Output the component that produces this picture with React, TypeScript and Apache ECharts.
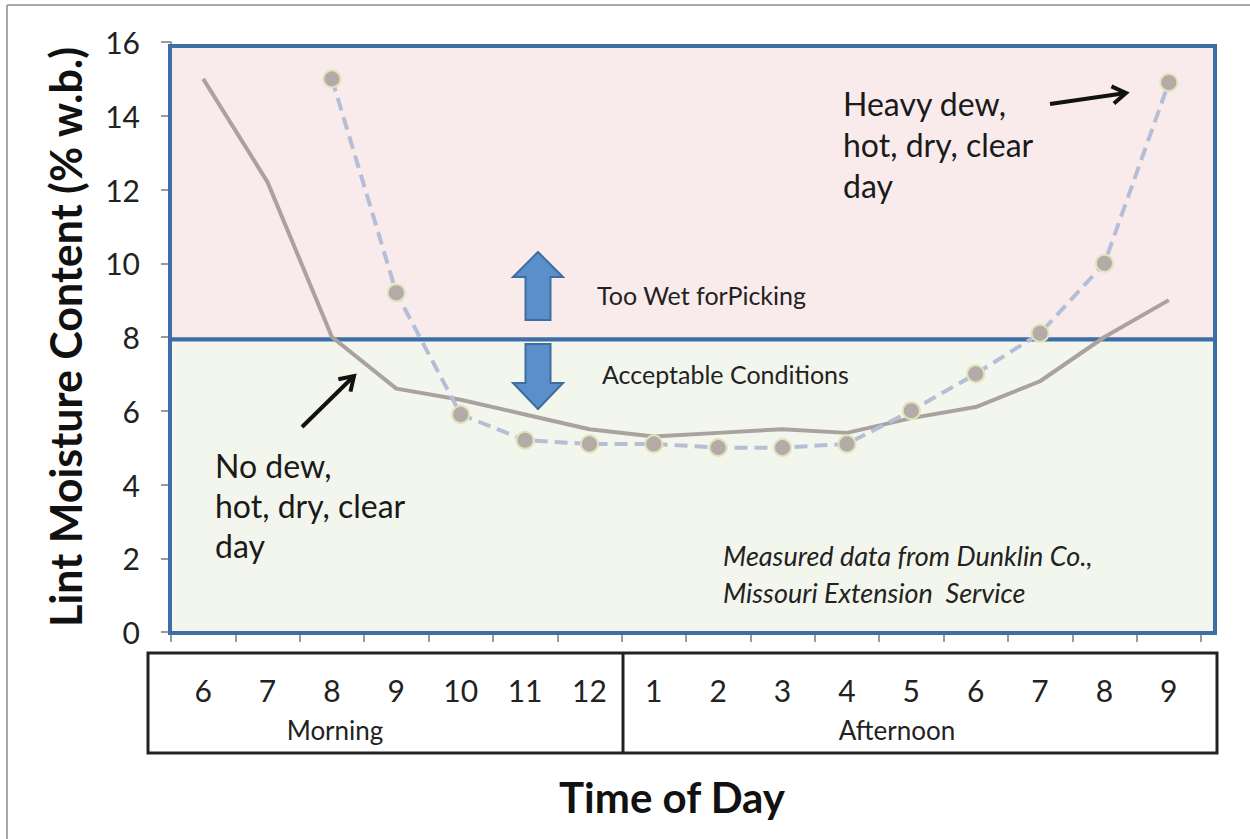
import React, { useEffect, useRef } from "react";
import * as echarts from "echarts";

const hours = ["6", "7", "8", "9", "10", "11", "12", "1", "2", "3", "4", "5", "6", "7", "8", "9"];
const noDew = [15.0, 12.2, 8.0, 6.6, 6.3, 5.9, 5.5, 5.3, 5.4, 5.5, 5.4, 5.8, 6.1, 6.8, 8.0, 9.0];
const heavyDew = [null, null, 15.0, 9.2, 5.9, 5.2, 5.1, 5.1, 5.0, 5.0, 5.1, 6.0, 7.0, 8.1, 10.0, 14.9];
const yTicks = { min: 0, max: 16, interval: 2 };
const threshold = 8;

const FONT = "Lato, 'Open Sans', sans-serif";

function arrowHead(x1: number, y1: number, x2: number, y2: number, len: number) {
  const a = Math.atan2(y2 - y1, x2 - x1);
  const s = Math.PI / 5.5;
  return [
    [x2 - len * Math.cos(a - s), y2 - len * Math.sin(a - s)],
    [x2, y2],
    [x2 - len * Math.cos(a + s), y2 - len * Math.sin(a + s)],
  ];
}

export default function App() {
  const ref = useRef<HTMLDivElement>(null);
  useEffect(() => {
    if (!ref.current) return;
    const chart = echarts.init(ref.current, undefined, { renderer: "svg" });
    const blackArrow = (x1: number, y1: number, x2: number, y2: number) => [
      { type: "line", shape: { x1, y1, x2, y2 }, style: { stroke: "#111", lineWidth: 4 }, z: 50 },
      {
        type: "polyline",
        shape: { points: arrowHead(x1, y1, x2, y2, 16) },
        style: { stroke: "#111", lineWidth: 4, fill: null },
        z: 50,
      },
    ];
    const bx = 538;
    const option: any = {
      animation: false,
      backgroundColor: "#ffffff",
      textStyle: { fontFamily: FONT },
      grid: [
        { left: 170, right: 35, top: 46, bottom: 206, show: false },
        { left: 171, right: 49, top: 42, bottom: 207, show: false },
      ],
      xAxis: [
        { gridIndex: 0, type: "value", min: 0, max: 1, show: false },
        {
          gridIndex: 1,
          type: "category",
          data: hours,
          boundaryGap: true,
          axisLine: { show: true, lineStyle: { color: "#9a9a9a", width: 2 } },
          axisTick: { show: true, length: 10, lineStyle: { color: "#9a9a9a", width: 2 } },
          axisLabel: { fontSize: 30, color: "#222", margin: 43, fontFamily: FONT },
        },
      ],
      yAxis: [
        { gridIndex: 0, type: "value", min: 0, max: 16, show: false },
        {
          gridIndex: 1,
          type: "value",
          min: yTicks.min,
          max: yTicks.max,
          interval: yTicks.interval,
          axisLine: { show: true, lineStyle: { color: "#9a9a9a", width: 2 } },
          axisTick: { show: true, length: 10, lineStyle: { color: "#9a9a9a", width: 2 } },
          axisLabel: { fontSize: 30, color: "#222", margin: 31, fontFamily: FONT },
          splitLine: { show: false },
          name: "Lint Moisture Content (% w.b.)",
          nameLocation: "middle",
          nameRotate: 90,
          nameGap: 84,
          nameTextStyle: { fontSize: 43, fontWeight: "bold", color: "#111", fontFamily: FONT },
        },
      ],
      series: [
        {
          type: "line",
          xAxisIndex: 0,
          yAxisIndex: 0,
          data: [],
          clip: false,
          silent: true,
          markArea: {
            silent: true,
            data: [
              [
                { yAxis: threshold, itemStyle: { color: "#f9ebeb", borderColor: "#3d6ea5", borderWidth: 4 } },
                { yAxis: 16 },
              ],
              [
                { yAxis: 0, itemStyle: { color: "#f3f6ec", borderColor: "#3d6ea5", borderWidth: 4 } },
                { yAxis: threshold },
              ],
            ],
          },
        },
        {
          name: "No dew",
          type: "line",
          xAxisIndex: 1,
          yAxisIndex: 1,
          data: noDew,
          showSymbol: false,
          symbol: "none",
          lineStyle: { color: "#aaa29f", width: 4 },
          z: 5,
        },
        {
          name: "Heavy dew",
          type: "line",
          xAxisIndex: 1,
          yAxisIndex: 1,
          data: heavyDew,
          symbol: "circle",
          symbolSize: 17,
          lineStyle: { color: "#b5bed7", width: 4, type: [13, 7] },
          itemStyle: { color: "#b4aaa8", borderColor: "#dfe4b9", borderWidth: 2 },
          z: 6,
        },
      ],
      graphic: [
        // outer frame
        { type: "line", shape: { x1: 7, y1: 5, x2: 1250, y2: 5 }, style: { stroke: "#a8a8a8", lineWidth: 2 } },
        { type: "line", shape: { x1: 7, y1: 5, x2: 7, y2: 839 }, style: { stroke: "#a8a8a8", lineWidth: 2 } },
        // category table
        {
          type: "rect",
          shape: { x: 148, y: 653, width: 1069, height: 100 },
          style: { fill: null, stroke: "#222", lineWidth: 3 },
          z: 40,
        },
        { type: "line", shape: { x1: 623, y1: 653, x2: 623, y2: 753 }, style: { stroke: "#222", lineWidth: 3 }, z: 40 },
        {
          type: "text",
          x: 335,
          y: 730,
          style: { text: "Morning", font: `26px ${FONT}`, fill: "#222", textAlign: "center", textVerticalAlign: "middle" },
          z: 40,
        },
        {
          type: "text",
          x: 897,
          y: 730,
          style: { text: "Afternoon", font: `26px ${FONT}`, fill: "#222", textAlign: "center", textVerticalAlign: "middle" },
          z: 40,
        },
        {
          type: "text",
          x: 672,
          y: 797,
          style: {
            text: "Time of Day",
            font: `bold 42px ${FONT}`,
            fill: "#111",
            textAlign: "center",
            textVerticalAlign: "middle",
          },
          z: 40,
        },
        // blue block arrows
        {
          type: "polygon",
          shape: {
            points: [
              [bx, 252], [bx + 25, 277], [bx + 12.5, 277], [bx + 12.5, 320],
              [bx - 12.5, 320], [bx - 12.5, 277], [bx - 25, 277],
            ],
          },
          style: { fill: "#5b8fca", stroke: "#3e6e9e", lineWidth: 2 },
          z: 45,
        },
        {
          type: "polygon",
          shape: {
            points: [
              [bx - 12.5, 344], [bx + 12.5, 344], [bx + 12.5, 383], [bx + 25, 383],
              [bx, 409], [bx - 25, 383], [bx - 12.5, 383],
            ],
          },
          style: { fill: "#5b8fca", stroke: "#3e6e9e", lineWidth: 2 },
          z: 45,
        },
        {
          type: "text",
          x: 597,
          y: 295,
          style: { text: "Too Wet forPicking", font: `25px ${FONT}`, fill: "#222", textVerticalAlign: "middle" },
          z: 45,
        },
        {
          type: "text",
          x: 602,
          y: 374,
          style: { text: "Acceptable Conditions", font: `25px ${FONT}`, fill: "#222", textVerticalAlign: "middle" },
          z: 45,
        },
        // annotations
        {
          type: "text",
          x: 843,
          y: 83,
          style: {
            text: "Heavy dew,\nhot, dry, clear\nday",
            font: `32px ${FONT}`,
            lineHeight: 41,
            fill: "#1a1a1a",
          },
          z: 45,
        },
        {
          type: "text",
          x: 215,
          y: 445,
          style: {
            text: "No dew,\nhot, dry, clear\nday",
            font: `32px ${FONT}`,
            lineHeight: 40,
            fill: "#1a1a1a",
          },
          z: 45,
        },
        {
          type: "text",
          x: 723,
          y: 537,
          style: {
            text: "Measured data from Dunklin Co.,\nMissouri Extension  Service",
            font: `italic 27px ${FONT}`,
            lineHeight: 37,
            fill: "#222",
          },
          z: 45,
        },
        ...blackArrow(302, 427, 354, 376),
        ...blackArrow(1050, 104, 1126, 93),
      ],
    };
    chart.setOption(option);
    return () => chart.dispose();
  }, []);
  return (
    <div
      ref={ref}
      style={{ position: "absolute", left: 0, top: 0, width: 1250, height: 839, background: "#fff" }}
    />
  );
}
